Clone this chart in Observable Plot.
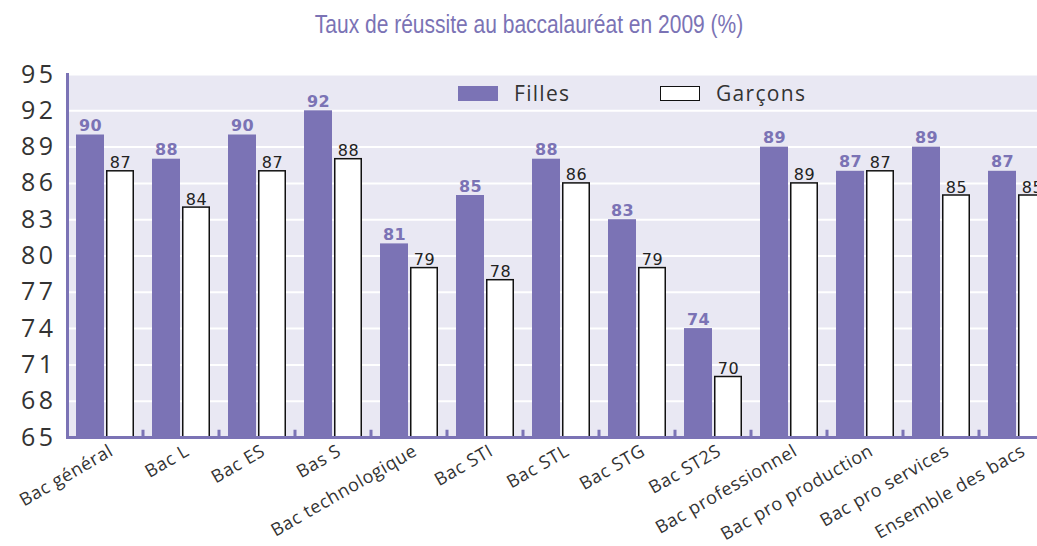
<!DOCTYPE html>
<html>
<head>
<meta charset="utf-8">
<script src="https://cdn.jsdelivr.net/npm/d3@7"></script>
<script src="https://cdn.jsdelivr.net/npm/@observablehq/plot@0.6"></script>
<style>
  html, body { margin: 0; padding: 0; background: #fff; overflow: hidden; }
  #wrap { position: relative; width: 1037px; height: 546px; overflow: hidden; }
  #title { position: absolute; left: 0; top: 10px; width: 1058px; text-align: center; }
  #title span { display: inline-block; transform: scaleX(0.84); transform-origin: center;
    font-family: "Liberation Sans", Arial, sans-serif; font-size: 25px; color: #7b73b5; }
  #chart { position: absolute; left: 0; top: 50px; }
  .legend { position: absolute; top: 79px; font-family: "Open Sans", sans-serif; font-size: 21px; letter-spacing: 1.3px; color: #333; display: flex; align-items: center; }
  .sw { width: 40px; height: 15px; box-sizing: border-box; margin-right: 16px; }
  g[aria-label="y-axis tick label"] text { letter-spacing: 3.5px; }
  g[aria-label="x-axis tick label"] text { letter-spacing: 0.6px; }
  g.vlab text { letter-spacing: 0.5px; }
</style>
</head>
<body>
<div id="wrap">
  <div id="title"><span>Taux de réussite au baccalauréat en 2009 (%)</span></div>
  <div id="chart"></div>
  <div id="legend"></div>
</div>
<script>
const categories = ["Bac général", "Bac L", "Bac ES", "Bas S", "Bac technologique", "Bac STI", "Bac STL", "Bac STG", "Bac ST2S", "Bac professionnel", "Bac pro production", "Bac pro services", "Ensemble des bacs"];
const girls = [90, 88, 90, 92, 81, 85, 88, 83, 74, 89, 87, 89, 87];
const boys = [87, 84, 87, 88, 79, 78, 86, 79, 70, 86, 87, 85, 85];
const girlsLabels = [90, 88, 90, 92, 81, 85, 88, 83, 74, 89, 87, 89, 87];
const boysLabels = [87, 84, 87, 88, 79, 78, 86, 79, 70, 89, 87, 85, 85];
const yTicks = [65, 68, 71, 74, 77, 80, 83, 86, 89, 92, 95];
const seriesNames = ["Filles", "Garçons"];

const purple = "#7b73b5";
const bg = "#e9e8f3";
const base = yTicks[0];

const rows = categories.map((c, i) => ({category: c, girls: girls[i], boys: boys[i], gl: girlsLabels[i], bl: boysLabels[i]}));

const chart = Plot.plot({
  width: 1037,
  height: 496,
  marginTop: 24,
  marginBottom: 109,
  marginLeft: 67,
  marginRight: 0,
  style: {overflow: "hidden", background: "transparent"},
  x: {domain: categories, range: [67, 1055], padding: 0},
  y: {domain: [yTicks[0], yTicks[yTicks.length - 1]]},
  marks: [
    Plot.frame({fill: bg}),
    Plot.gridY(yTicks, {stroke: "white", strokeOpacity: 1, strokeWidth: 2}),
    Plot.barY(categories.slice(0, -1), {x: d => d, y1: base, y2: base + 0.6, fill: purple, insetLeft: 74.5, insetRight: -1.5}),
    Plot.barY(rows, {x: "category", y1: base, y2: "girls", fill: purple, insetLeft: 9, insetRight: 39}),
    Plot.barY(rows, {x: "category", y1: base, y2: "boys", fill: "white", stroke: "#111", strokeWidth: 1.5, insetLeft: 39.75, insetRight: 9.75}),
    Plot.ruleY([base], {stroke: purple, strokeWidth: 3}),
    Plot.frame({anchor: "left", stroke: purple, strokeWidth: 3}),
    Plot.text(rows, {x: "category", y: "girls", text: "gl", dx: -15, dy: -4, lineAnchor: "bottom", fill: purple, fontWeight: "bold", fontSize: 16, fontFamily: "DejaVu Sans", className: "vlab"}),
    Plot.text(rows, {x: "category", y: "boys", text: "bl", dx: 15, dy: -3, lineAnchor: "bottom", fill: "#222", fontSize: 16, fontFamily: "DejaVu Sans", className: "vlab"}),
    Plot.axisY(yTicks, {tickSize: 0, tickPadding: 11, fontSize: 25, fontFamily: "Open Sans", color: "#333", label: null}),
    Plot.axisX({tickSize: 0, tickPadding: 12, tickRotate: -30, dx: 6, fontSize: 18, fontFamily: "Open Sans", color: "#333", label: null})
  ]
});
document.getElementById("chart").appendChild(chart);

const legendDefs = [
  {name: seriesNames[0], left: 458, style: `background:${purple};`},
  {name: seriesNames[1], left: 660, style: `background:#fff;border:1.5px solid #111;`}
];
const legend = document.getElementById("legend");
for (const d of legendDefs) {
  const el = document.createElement("div");
  el.className = "legend";
  el.style.left = d.left + "px";
  el.innerHTML = `<div class="sw" style="${d.style}"></div><span>${d.name}</span>`;
  legend.appendChild(el);
}
</script>
</body>
</html>
